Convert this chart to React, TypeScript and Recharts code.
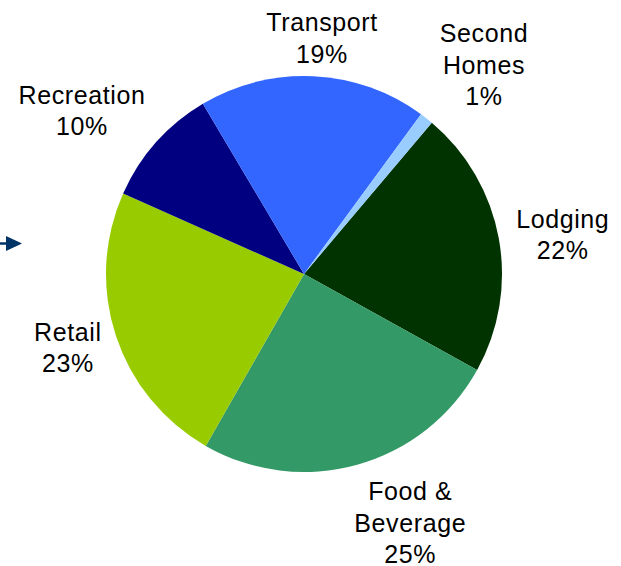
import React from "react";
import { PieChart, Pie, Cell } from "recharts";

const categories = ["Lodging", "Food & Beverage", "Retail", "Recreation", "Transport", "Second Homes"];
const shares = [21.9, 25.2, 23.4, 9.8, 18.6, 1.1];
const labelLines = [["Lodging"], ["Food &", "Beverage"], ["Retail"], ["Recreation"], ["Transport"], ["Second", "Homes"]];
const colors = ["#003300", "#339966", "#99CC00", "#000080", "#3366FF", "#99CCFF"];
const labelOffsets = [[64, -4], [53, 58], [-48, 12], [-74, -32], [8.5, -38], [57.5, -53.5]];

const data = categories.map((name, i) => ({ name, value: shares[i] }));

const RAD = Math.PI / 180;
const PITCH = 31.5;

const renderLabel = (props: any) => {
  const { cx, cy, midAngle, outerRadius, index, percent } = props;
  const ex = cx + outerRadius * Math.cos(-midAngle * RAD);
  const ey = cy + outerRadius * Math.sin(-midAngle * RAD);
  const [dx, dy] = labelOffsets[index];
  const x = ex + dx;
  const y = ey + dy;
  const lines = [...labelLines[index], `${Math.round(percent * 100)}%`];
  const y0 = y - ((lines.length - 1) * PITCH) / 2 + 9;
  return (
    <text
      key={`l-${index}`}
      x={x}
      y={y0}
      textAnchor="middle"
      fill="#000"
      fontSize={25}
      letterSpacing={0.6}
      fontFamily="'Liberation Sans', Arial, sans-serif"
    >
      {lines.map((t, k) => (
        <tspan key={k} x={x} y={y0 + k * PITCH}>
          {t}
        </tspan>
      ))}
    </text>
  );
};

export default function App() {
  return (
    <div style={{ position: "absolute", left: 0, top: 0, width: 621, height: 566, background: "#fff" }}>
      <PieChart width={621} height={566} margin={{ top: 0, right: 0, bottom: 0, left: 0 }}>
        <Pie
          data={data}
          dataKey="value"
          nameKey="name"
          cx={304}
          cy={274}
          outerRadius={198}
          startAngle={49.8}
          endAngle={-310.2}
          stroke="none"
          labelLine={false}
          label={renderLabel}
          isAnimationActive={false}
        >
          {data.map((d, i) => (
            <Cell key={d.name} fill={colors[i]} stroke="none" />
          ))}
        </Pie>
      </PieChart>
      <svg width={30} height={30} style={{ position: "absolute", left: 0, top: 229 }}>
        <line x1={0} y1={14.5} x2={8} y2={14.5} stroke="#003366" strokeWidth={2.5} />
        <polygon points="6,7 22,14.5 6,22" fill="#003366" />
      </svg>
    </div>
  );
}
